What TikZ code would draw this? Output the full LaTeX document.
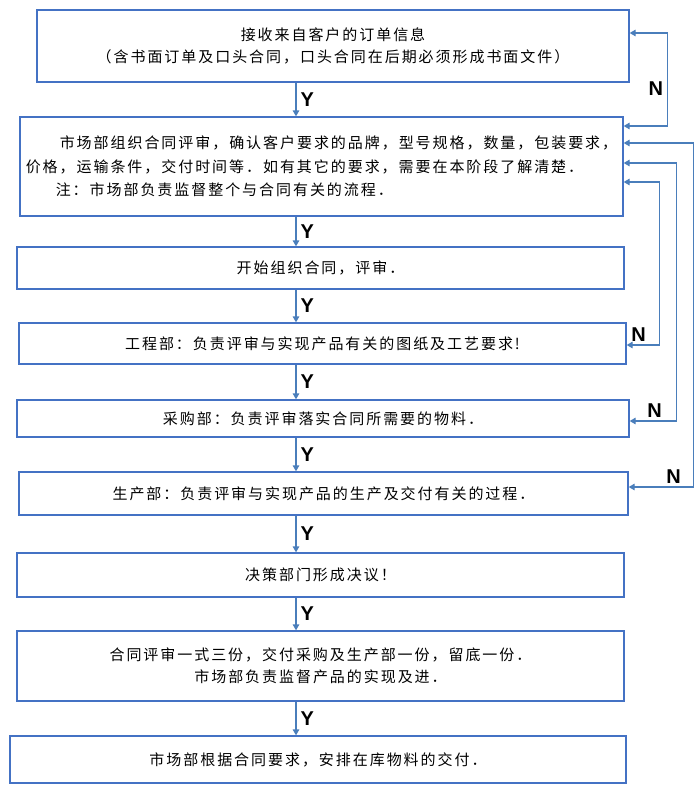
\documentclass[tikz,border=0pt]{standalone}
\usepackage{fontspec}
\setmainfont{Noto Sans CJK SC}[LetterSpace=13]
\newfontfamily\yesnofont{Liberation Sans}
\usetikzlibrary{arrows.meta,calc}
\definecolor{flowblue}{RGB}{68,114,196}
\definecolor{flowline}{RGB}{74,126,187}
\tikzset{
  flowbox/.style={rectangle, draw=flowblue, line width=1.3pt, fill=white,
                  inner sep=0pt, align=center, font=\fontsize{15}{22}\selectfont},
  yarrow/.style={-{Triangle[length=6pt, width=6.5pt]}, line width=1.3pt, flowline},
  nloop/.style ={{Triangle[length=6pt, width=6.5pt]}-{Triangle[length=6pt, width=6.5pt]},
                 line width=1.3pt, flowline},
  ylabel/.style={font=\yesnofont\bfseries\fontsize{20}{20}\selectfont, text=black, inner sep=1pt},
}

\begin{document}
\begin{tikzpicture}[x=1pt, y=-1pt]
  \path[fill=white] (0,0) rectangle (700,798);

  % --- the steps ----------------------------------------------------------
  \node[flowbox, minimum width=592pt, minimum height=72pt] (recv) at (333,46)
    {接收来自客户的订单信息\\（含书面订单及口头合同，口头合同在后期必须形成书面文件）};
  \node[flowbox, align=left, font=\fontsize{15}{23.5}\selectfont,
        minimum width=603pt, minimum height=99pt] (review) at (321.5,166.5)
    {\hspace*{34pt}市场部组织合同评审，确认客户要求的品牌，型号规格，数量，包装要求，\\
     价格，运输条件，交付时间等．如有其它的要求，需要在本阶段了解清楚．\\
     \hspace*{30pt}注：市场部负责监督整个与合同有关的流程．};
  \node[flowbox, minimum width=607pt, minimum height=42pt] (start) at (320.5,268)
    {开始组织合同，评审．};
  \node[flowbox, minimum width=607pt, minimum height=41pt] (eng) at (322.5,343.5)
    {工程部：负责评审与实现产品有关的图纸及工艺要求!};
  \node[flowbox, minimum width=612pt, minimum height=37pt] (buy) at (323,418.5)
    {采购部：负责评审落实合同所需要的物料．};
  \node[flowbox, minimum width=609pt, minimum height=43pt] (prod) at (323.5,493.5)
    {生产部：负责评审与实现产品的生产及交付有关的过程．};
  \node[flowbox, minimum width=607pt, minimum height=44pt] (decide) at (320.5,575)
    {决策部门形成决议！};
  \node[flowbox, minimum width=607pt, minimum height=70pt] (copies) at (320.5,666)
    {合同评审一式三份，交付采购及生产部一份，留底一份．\\市场部负责监督产品的实现及进．};
  \node[flowbox, minimum width=616pt, minimum height=47pt] (deliver) at (318,759.5)
    {市场部根据合同要求，安排在库物料的交付．};

  % --- the Y arrows -------------------------------------------------------
  \coordinate (axis) at (296,0);
  \foreach \a/\b in {recv/review, review/start, start/eng, eng/buy,
                     buy/prod, prod/decide, decide/copies, copies/deliver}
    \draw[yarrow] (\a.south -| axis) -- (\b.north -| axis)
      node[midway, right=3pt, ylabel] {Y};

  % --- the N loops --------------------------------------------------------
  \draw[nloop] ([yshift=40.5pt]review.east) -- ++(44,0)
    |- node[pos=0.2, left=3pt, ylabel] {N} ([yshift=13pt]recv.east);
  \draw[nloop] ([yshift=-1.5pt]eng.east) -- node[pos=0.36, above=2pt, ylabel] {N} ++(33,0)
    |- ([yshift=-15.5pt]review.east);
  \draw[nloop] ([yshift=-2.5pt]buy.east) -- node[pos=0.53, above=2pt, ylabel] {N} ++(47,0)
    |- ([yshift=3.5pt]review.east);
  \draw[nloop] ([yshift=6.5pt]prod.east) -- node[pos=0.69, above=2pt, ylabel] {N} ++(65,0)
    |- ([yshift=23.5pt]review.east);
\end{tikzpicture}
\end{document}
